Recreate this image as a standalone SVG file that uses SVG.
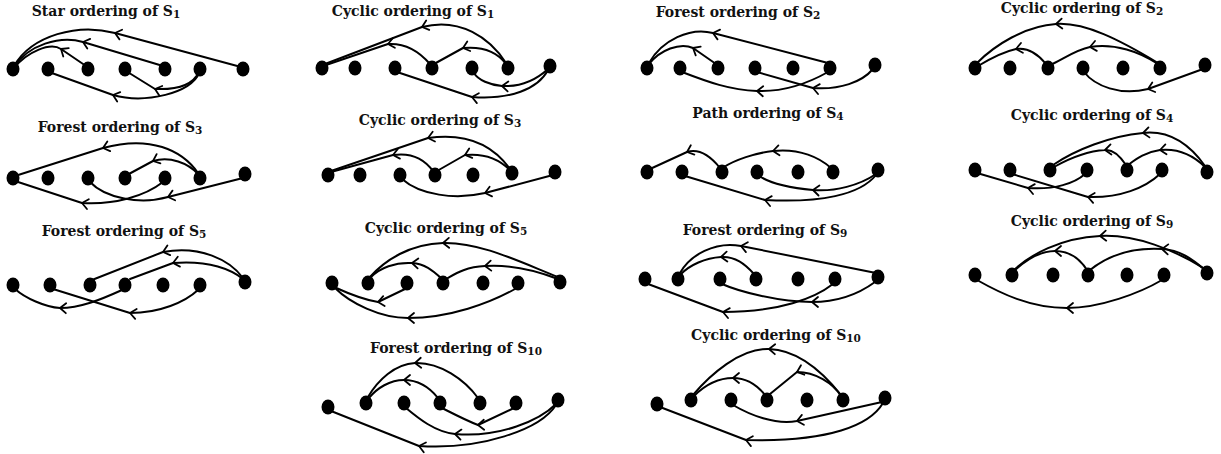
<svg xmlns="http://www.w3.org/2000/svg" width="1221" height="454" viewBox="0 0 1221 454">
<style>
.t{font-family:"DejaVu Serif","Liberation Serif",serif;font-weight:bold;font-size:14px;fill:#111;text-anchor:middle}
.s{font-size:10.5px}
.e{fill:none;stroke:#000;stroke-width:2;stroke-linecap:round;stroke-linejoin:round;marker-mid:url(#ar)}
.d{fill:#000}
</style>
<defs>
<marker id="ar" viewBox="-9 -7 11 14" markerWidth="11" markerHeight="14" markerUnits="userSpaceOnUse" orient="auto" refX="0" refY="0">
<path d="M-6,-5 L0,0 L-6,5" fill="none" stroke="#000" stroke-width="1.8" stroke-linecap="round" stroke-linejoin="round"/>
</marker>
</defs>
<rect width="1221" height="454" fill="#fff"/>
<g id="titles">
<text class="t" x="106" y="16">Star ordering of S<tspan class="s" dy="2">1</tspan></text>
<text class="t" x="413" y="16">Cyclic ordering of S<tspan class="s" dy="2">1</tspan></text>
<text class="t" x="738" y="17">Forest ordering of S<tspan class="s" dy="2">2</tspan></text>
<text class="t" x="1082" y="13">Cyclic ordering of S<tspan class="s" dy="2">2</tspan></text>
<text class="t" x="120" y="132">Forest ordering of S<tspan class="s" dy="2">3</tspan></text>
<text class="t" x="440" y="125">Cyclic ordering of S<tspan class="s" dy="2">3</tspan></text>
<text class="t" x="768" y="118">Path ordering of S<tspan class="s" dy="2">4</tspan></text>
<text class="t" x="1092" y="120">Cyclic ordering of S<tspan class="s" dy="2">4</tspan></text>
<text class="t" x="124" y="236">Forest ordering of S<tspan class="s" dy="2">5</tspan></text>
<text class="t" x="446" y="233">Cyclic ordering of S<tspan class="s" dy="2">5</tspan></text>
<text class="t" x="765" y="235">Forest ordering of S<tspan class="s" dy="2">9</tspan></text>
<text class="t" x="1092" y="226">Cyclic ordering of S<tspan class="s" dy="2">9</tspan></text>
<text class="t" x="456" y="353">Forest ordering of S<tspan class="s" dy="2">10</tspan></text>
<text class="t" x="776" y="340">Cyclic ordering of S<tspan class="s" dy="2">10</tspan></text>
</g>
<g id="connectors">
<path class="e" d="M241,67 L115,33 C78,23 32,35 14,66"/>
<path class="e" d="M163,66 L83,42 C60,35 28,45 14,67"/>
<path class="e" d="M86,66 L61,49 C50,42 27,52 14,68"/>
<path class="e" d="M199,72 C193,85 178,90 155,89 L126,71"/>
<path class="e" d="M199,73 C192,93 145,104 113,95 L49,72"/>

<path class="e" d="M506,63 C490,38 460,17 422,27 L325,64"/>
<path class="e" d="M506,64 C498,53 485,46 463,48 L434,64"/>
<path class="e" d="M430,64 C418,50 405,43 388,44 L326,65"/>
<path class="e" d="M548,69 C536,80 520,87 502,86 C490,85 478,80 474,73"/>
<path class="e" d="M548,70 C538,89 510,100 472,97 L397,72"/>

<path class="e" d="M828,63 L713,33 C690,27 662,40 649,63"/>
<path class="e" d="M716,64 L693,48 C680,42 660,50 649,64"/>
<path class="e" d="M828,72 C805,85 783,92 757,91 C730,90 708,82 682,72"/>
<path class="e" d="M873,69 C862,82 840,90 813,88 L757,72"/>

<path class="e" d="M1158,63 C1120,40 1085,22 1056,24 C1025,26 995,45 977,63"/>
<path class="e" d="M1158,64 C1140,52 1115,43 1090,47 C1075,50 1062,60 1050,65"/>
<path class="e" d="M1046,64 C1038,54 1028,47 1016,49 C1002,52 988,60 978,66"/>
<path class="e" d="M1203,69 L1148,89 C1120,96 1095,86 1084,72"/>

<path class="e" d="M198,173 C182,150 150,135 103,148 L15,176"/>
<path class="e" d="M198,174 C188,163 170,156 153,161 L127,175"/>
<path class="e" d="M163,182 C145,196 115,205 82,203 L15,181"/>
<path class="e" d="M243,178 L168,197 C140,205 105,198 90,182"/>

<path class="e" d="M510,169 C495,148 470,132 428,138 L331,171"/>
<path class="e" d="M510,170 C500,160 485,153 465,155 L437,171"/>
<path class="e" d="M433,171 C425,160 413,152 393,155 L331,172"/>
<path class="e" d="M553,175 L485,193 C455,200 420,195 402,179"/>

<path class="e" d="M720,168 C712,158 700,148 687,152 L650,169"/>
<path class="e" d="M831,168 C820,158 800,148 773,151 C755,153 735,160 724,167"/>
<path class="e" d="M876,174 C860,185 835,192 813,190 C790,188 770,183 759,176"/>
<path class="e" d="M876,175 C860,195 820,203 765,200 L685,176"/>

<path class="e" d="M1205,166 C1190,145 1170,130 1143,133 C1110,136 1075,150 1053,165"/>
<path class="e" d="M1205,167 C1195,157 1180,148 1160,150 C1145,152 1135,160 1128,165"/>
<path class="e" d="M1126,165 C1120,156 1113,149 1105,150 C1088,151 1070,158 1054,167"/>
<path class="e" d="M1085,174 C1075,183 1055,190 1028,188 L977,173"/>
<path class="e" d="M1160,174 C1145,188 1120,198 1088,197 L1012,174"/>

<path class="e" d="M243,278 C230,260 200,245 163,252 L92,280"/>
<path class="e" d="M243,279 C232,270 210,260 173,263 L130,279"/>
<path class="e" d="M122,290 C100,300 80,308 60,308 C45,307 25,298 15,289"/>
<path class="e" d="M198,290 C185,302 160,313 130,313 L53,289"/>

<path class="e" d="M558,277 C520,262 480,242 443,243 C410,244 385,260 370,277"/>
<path class="e" d="M558,279 C540,272 515,264 485,266 C465,267 455,274 446,279"/>
<path class="e" d="M441,278 C432,270 425,264 412,263 C395,262 380,268 371,277"/>
<path class="e" d="M405,289 L378,302 C365,300 345,292 334,287"/>
<path class="e" d="M515,289 C490,303 450,318 408,318 C380,318 350,303 335,288"/>

<path class="e" d="M876,273 L741,246 C715,241 690,255 680,273"/>
<path class="e" d="M754,274 C745,264 735,256 721,257 C705,258 690,265 681,274"/>
<path class="e" d="M875,282 C860,293 838,302 812,302 C780,302 740,292 722,284"/>
<path class="e" d="M833,284 C815,298 780,312 723,312 L648,284"/>

<path class="e" d="M1205,269 C1175,250 1135,234 1100,236 C1060,238 1030,255 1014,270"/>
<path class="e" d="M1205,270 C1192,259 1180,250 1162,249 C1128,247 1105,258 1090,270"/>
<path class="e" d="M1087,270 C1080,259 1070,251 1055,251 C1040,251 1025,261 1015,270"/>
<path class="e" d="M1162,280 C1140,293 1100,308 1067,308 C1030,308 1000,293 977,280"/>

<path class="e" d="M478,398 C465,380 440,362 415,363 C395,364 378,380 368,397"/>
<path class="e" d="M438,398 C430,388 420,380 404,380 C390,380 377,388 369,398"/>
<path class="e" d="M514,408 L478,425 C465,420 450,412 442,408"/>
<path class="e" d="M556,404 C540,420 500,438 455,434 C435,432 418,418 406,408"/>
<path class="e" d="M556,405 C540,430 480,450 419,446 L331,411"/>

<path class="e" d="M841,395 C825,375 800,350 769,349 C740,348 710,375 693,395"/>
<path class="e" d="M841,396 C833,383 815,372 797,372 L770,394"/>
<path class="e" d="M765,395 C757,385 747,378 733,378 C715,378 703,387 694,396"/>
<path class="e" d="M882,402 L797,421 C775,425 750,415 733,405"/>
<path class="e" d="M883,403 C870,425 830,442 746,440 L660,407"/>
</g>
<g id="p1" class="d"><ellipse cx="13" cy="69" rx="6.5" ry="7.5"/><ellipse cx="48" cy="69" rx="6.5" ry="7.5"/><ellipse cx="88" cy="69" rx="6.5" ry="7.5"/><ellipse cx="125" cy="69" rx="6.5" ry="7.5"/><ellipse cx="165" cy="69" rx="6.5" ry="7.5"/><ellipse cx="200" cy="69" rx="6.5" ry="7.5"/><ellipse cx="243" cy="69" rx="6.5" ry="7.5"/></g>
<g id="p2" class="d"><ellipse cx="322" cy="68" rx="6.5" ry="7.5"/><ellipse cx="355" cy="68" rx="6.5" ry="7.5"/><ellipse cx="395" cy="68" rx="6.5" ry="7.5"/><ellipse cx="432" cy="68" rx="6.5" ry="7.5"/><ellipse cx="472" cy="68" rx="6.5" ry="7.5"/><ellipse cx="508" cy="68" rx="6.5" ry="7.5"/><ellipse cx="550" cy="66" rx="6.5" ry="7.5"/></g>
<g id="p3" class="d"><ellipse cx="647" cy="68" rx="6.5" ry="7.5"/><ellipse cx="680" cy="68" rx="6.5" ry="7.5"/><ellipse cx="718" cy="68" rx="6.5" ry="7.5"/><ellipse cx="755" cy="68" rx="6.5" ry="7.5"/><ellipse cx="793" cy="68" rx="6.5" ry="7.5"/><ellipse cx="830" cy="68" rx="6.5" ry="7.5"/><ellipse cx="875" cy="65" rx="6.5" ry="7.5"/></g>
<g id="p4" class="d"><ellipse cx="975" cy="68" rx="6.5" ry="7.5"/><ellipse cx="1010" cy="68" rx="6.5" ry="7.5"/><ellipse cx="1048" cy="68" rx="6.5" ry="7.5"/><ellipse cx="1083" cy="68" rx="6.5" ry="7.5"/><ellipse cx="1123" cy="68" rx="6.5" ry="7.5"/><ellipse cx="1160" cy="68" rx="6.5" ry="7.5"/><ellipse cx="1205" cy="65" rx="6.5" ry="7.5"/></g>
<g id="p5" class="d"><ellipse cx="13" cy="178" rx="6.5" ry="7.5"/><ellipse cx="48" cy="178" rx="6.5" ry="7.5"/><ellipse cx="88" cy="178" rx="6.5" ry="7.5"/><ellipse cx="125" cy="178" rx="6.5" ry="7.5"/><ellipse cx="165" cy="178" rx="6.5" ry="7.5"/><ellipse cx="200" cy="178" rx="6.5" ry="7.5"/><ellipse cx="245" cy="174" rx="6.5" ry="7.5"/></g>
<g id="p6" class="d"><ellipse cx="328" cy="175" rx="6.5" ry="7.5"/><ellipse cx="360" cy="175" rx="6.5" ry="7.5"/><ellipse cx="400" cy="175" rx="6.5" ry="7.5"/><ellipse cx="435" cy="175" rx="6.5" ry="7.5"/><ellipse cx="473" cy="175" rx="6.5" ry="7.5"/><ellipse cx="512" cy="173" rx="6.5" ry="7.5"/><ellipse cx="555" cy="172" rx="6.5" ry="7.5"/></g>
<g id="p7" class="d"><ellipse cx="647" cy="172" rx="6.5" ry="7.5"/><ellipse cx="682" cy="172" rx="6.5" ry="7.5"/><ellipse cx="722" cy="172" rx="6.5" ry="7.5"/><ellipse cx="757" cy="172" rx="6.5" ry="7.5"/><ellipse cx="798" cy="172" rx="6.5" ry="7.5"/><ellipse cx="833" cy="172" rx="6.5" ry="7.5"/><ellipse cx="878" cy="170" rx="6.5" ry="7.5"/></g>
<g id="p8" class="d"><ellipse cx="975" cy="170" rx="6.5" ry="7.5"/><ellipse cx="1010" cy="170" rx="6.5" ry="7.5"/><ellipse cx="1050" cy="170" rx="6.5" ry="7.5"/><ellipse cx="1087" cy="170" rx="6.5" ry="7.5"/><ellipse cx="1127" cy="170" rx="6.5" ry="7.5"/><ellipse cx="1162" cy="170" rx="6.5" ry="7.5"/><ellipse cx="1207" cy="172" rx="6.5" ry="7.5"/></g>
<g id="p9" class="d"><ellipse cx="13" cy="285" rx="6.5" ry="7.5"/><ellipse cx="50" cy="285" rx="6.5" ry="7.5"/><ellipse cx="90" cy="285" rx="6.5" ry="7.5"/><ellipse cx="125" cy="285" rx="6.5" ry="7.5"/><ellipse cx="163" cy="285" rx="6.5" ry="7.5"/><ellipse cx="200" cy="285" rx="6.5" ry="7.5"/><ellipse cx="245" cy="282" rx="6.5" ry="7.5"/></g>
<g id="p10" class="d"><ellipse cx="332" cy="283" rx="6.5" ry="7.5"/><ellipse cx="368" cy="283" rx="6.5" ry="7.5"/><ellipse cx="407" cy="283" rx="6.5" ry="7.5"/><ellipse cx="443" cy="283" rx="6.5" ry="7.5"/><ellipse cx="483" cy="283" rx="6.5" ry="7.5"/><ellipse cx="518" cy="283" rx="6.5" ry="7.5"/><ellipse cx="560" cy="282" rx="6.5" ry="7.5"/></g>
<g id="p11" class="d"><ellipse cx="645" cy="279" rx="6.5" ry="7.5"/><ellipse cx="678" cy="279" rx="6.5" ry="7.5"/><ellipse cx="720" cy="279" rx="6.5" ry="7.5"/><ellipse cx="756" cy="279" rx="6.5" ry="7.5"/><ellipse cx="798" cy="279" rx="6.5" ry="7.5"/><ellipse cx="835" cy="279" rx="6.5" ry="7.5"/><ellipse cx="878" cy="277" rx="6.5" ry="7.5"/></g>
<g id="p12" class="d"><ellipse cx="975" cy="275" rx="6.5" ry="7.5"/><ellipse cx="1012" cy="275" rx="6.5" ry="7.5"/><ellipse cx="1053" cy="275" rx="6.5" ry="7.5"/><ellipse cx="1088" cy="275" rx="6.5" ry="7.5"/><ellipse cx="1127" cy="275" rx="6.5" ry="7.5"/><ellipse cx="1164" cy="275" rx="6.5" ry="7.5"/><ellipse cx="1207" cy="273" rx="6.5" ry="7.5"/></g>
<g id="p13" class="d"><ellipse cx="328" cy="407" rx="6.5" ry="7.5"/><ellipse cx="366" cy="403" rx="6.5" ry="7.5"/><ellipse cx="404" cy="403" rx="6.5" ry="7.5"/><ellipse cx="440" cy="403" rx="6.5" ry="7.5"/><ellipse cx="480" cy="403" rx="6.5" ry="7.5"/><ellipse cx="516" cy="403" rx="6.5" ry="7.5"/><ellipse cx="558" cy="400" rx="6.5" ry="7.5"/></g>
<g id="p14" class="d"><ellipse cx="657" cy="404" rx="6.5" ry="7.5"/><ellipse cx="691" cy="400" rx="6.5" ry="7.5"/><ellipse cx="731" cy="400" rx="6.5" ry="7.5"/><ellipse cx="767" cy="400" rx="6.5" ry="7.5"/><ellipse cx="807" cy="400" rx="6.5" ry="7.5"/><ellipse cx="843" cy="400" rx="6.5" ry="7.5"/><ellipse cx="885" cy="398" rx="6.5" ry="7.5"/></g>
</svg>
